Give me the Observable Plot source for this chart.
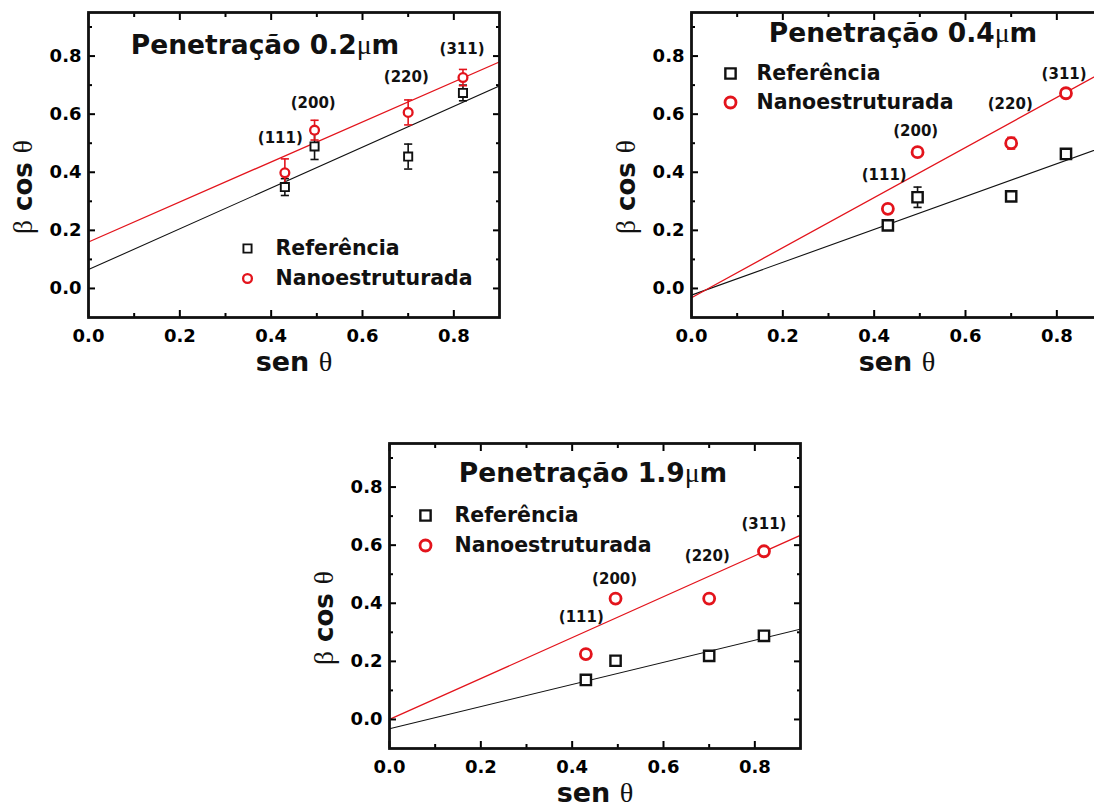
<!DOCTYPE html>
<html>
<head>
<meta charset="utf-8">
<script src="https://cdn.jsdelivr.net/npm/d3@7"></script>
<script src="https://cdn.jsdelivr.net/npm/@observablehq/plot@0.6"></script>
<style>
  html, body { margin: 0; padding: 0; background: #fff; }
  body { width: 1094px; height: 808px; overflow: hidden; position: relative; }
  .panel { position: absolute; width: 519px; height: 380px; }
  .panel svg { max-width: none !important; }
</style>
</head>
<body>
<div id="p1" class="panel" style="left:0px;top:0px"></div>
<div id="p2" class="panel" style="left:603px;top:0px"></div>
<div id="p3" class="panel" style="left:301px;top:431px"></div>
<script>
// ---------- data ----------
const sinTheta = [0.43, 0.495, 0.70, 0.82];
const planes = ["(111)", "(200)", "(220)", "(311)"];
const seriesNames = ["Referência", "Nanoestruturada"];
const titles = ["Penetração 0.2μm", "Penetração 0.4μm", "Penetração 1.9μm"];

const xTicks = [0.0, 0.2, 0.4, 0.6, 0.8];
const xMinor = [0.1, 0.3, 0.5, 0.7];
const yTicks = [0.0, 0.2, 0.4, 0.6, 0.8];
const yMinor = [0.1, 0.3, 0.5, 0.7, 0.9];
const xDomain = [0, 0.9];
const yDomain = [-0.1, 0.95];

// Penetração 0.2 µm
const ref02 = [0.349, 0.489, 0.454, 0.673];
const ref02Err = [0.029, 0.045, 0.043, 0.027];
const nano02 = [0.398, 0.545, 0.606, 0.726];
const nano02Err = [0.048, 0.034, 0.043, 0.028];
// Penetração 0.4 µm
const ref04 = [0.217, 0.314, 0.317, 0.463];
const ref04Err = [0.012, 0.035, 0.012, 0.015];
const nano04 = [0.274, 0.469, 0.500, 0.672];
const nano04Err = [0.012, 0.012, 0.020, 0.015];
// Penetração 1.9 µm
const ref19 = [0.136, 0.202, 0.219, 0.288];
const ref19Err = [0.010, 0.010, 0.010, 0.010];
const nano19 = [0.225, 0.416, 0.416, 0.579];
const nano19Err = [0.008, 0.008, 0.008, 0.008];

// linear fits (values at the ends of the x range)
const fitX = [0, 0.9];
const fitRef02 = [0.065, 0.697];
const fitNano02 = [0.160, 0.780];
const fitRef04 = [-0.023, 0.486];
const fitNano04 = [-0.032, 0.744];
const fitRef19 = [-0.032, 0.311];
const fitNano19 = [0.000, 0.634];

// plane label anchors (data units)
const planeX02 = [0.420, 0.492, 0.696, 0.818];
const planeY02 = [0.516, 0.639, 0.728, 0.824];
const planeX04 = [0.422, 0.491, 0.698, 0.816];
const planeY04 = [0.389, 0.540, 0.634, 0.737];
const planeX19 = [0.420, 0.493, 0.696, 0.820];
const planeY19 = [0.351, 0.482, 0.562, 0.671];

const RED = "#e3141c";
const FONT = "DejaVu Sans";

// ---------- helpers ----------
const capSymbol = {
  draw(context, size) {
    const w = Math.sqrt(size);
    context.moveTo(-w, 0);
    context.lineTo(w, 0);
  }
};

function rows(ys, errs) {
  return sinTheta.map((x, i) => ({x, y: ys[i], lo: ys[i] - errs[i], hi: ys[i] + errs[i]}));
}
function fitRows(ys) {
  return fitX.map((x, i) => ({x, y: ys[i]}));
}
function labelRows(xs, ys) {
  return planes.map((t, i) => ({t, x: xs[i], y: ys[i]}));
}

function greekify(svg) {
  svg.querySelectorAll("text, tspan").forEach(el => {
    for (const node of Array.from(el.childNodes)) {
      if (node.nodeType === 3 && /[βθμ]/.test(node.nodeValue)) {
        const parts = node.nodeValue.split(/([βθμ])/);
        const frag = document.createDocumentFragment();
        for (const p of parts) {
          if (!p) continue;
          if (/[βθμ]/.test(p)) {
            const t = document.createElementNS("http://www.w3.org/2000/svg", "tspan");
            t.setAttribute("font-family", "Liberation Serif, DejaVu Serif, serif");
            t.setAttribute("font-weight", "normal");
            t.setAttribute("font-size", "1.05em");
            t.textContent = p;
            frag.appendChild(t);
          } else frag.appendChild(document.createTextNode(p));
        }
        node.replaceWith(frag);
      }
    }
  });
}

function panel(cfg) {
  const ref = rows(cfg.ref, cfg.refErr);
  const nano = rows(cfg.nano, cfg.nanoErr);
  const axisCommon = {label: null, fontSize: 18, fontWeight: "bold"};
  const plot = Plot.plot({
    width: 519,
    height: 380,
    marginLeft: 88,
    marginRight: 20,
    marginTop: 12,
    marginBottom: 63,
    style: {fontFamily: FONT, background: "white", color: "black", overflow: "visible"},
    x: {domain: xDomain},
    y: {domain: yDomain},
    marks: [
      // fit lines
      Plot.line(fitRows(cfg.fitRef), {x: "x", y: "y", stroke: "#111", strokeWidth: 1.1, clip: true}),
      Plot.line(fitRows(cfg.fitNano), {x: "x", y: "y", stroke: RED, strokeWidth: 1.3, clip: true}),
      // error bars
      Plot.ruleX(ref, {x: "x", y1: "lo", y2: "hi", stroke: "#111", strokeWidth: 1.6}),
      Plot.dot(ref, {x: "x", y: "lo", symbol: capSymbol, r: 2.3, stroke: "#111", strokeWidth: 1.6}),
      Plot.dot(ref, {x: "x", y: "hi", symbol: capSymbol, r: 2.3, stroke: "#111", strokeWidth: 1.6}),
      Plot.ruleX(nano, {x: "x", y1: "lo", y2: "hi", stroke: RED, strokeWidth: 1.6}),
      Plot.dot(nano, {x: "x", y: "lo", symbol: capSymbol, r: 2.3, stroke: RED, strokeWidth: 1.6}),
      Plot.dot(nano, {x: "x", y: "hi", symbol: capSymbol, r: 2.3, stroke: RED, strokeWidth: 1.6}),
      // points
      Plot.dot(ref, {x: "x", y: "y", symbol: "square", r: cfg.sq, stroke: "#111", strokeWidth: cfg.sqw, fill: "white"}),
      Plot.dot(nano, {x: "x", y: "y", symbol: "circle", r: cfg.circ, stroke: RED, strokeWidth: cfg.circw, fill: "white"}),
      // plane labels
      Plot.text(labelRows(cfg.planeX, cfg.planeY), {x: "x", y: "y", text: "t", fontSize: 15, fontWeight: "bold", fill: "#111"}),
      // title
      Plot.text([cfg.title], {frameAnchor: "top", lineAnchor: "middle", textAnchor: "middle", dx: cfg.titleDx, dy: cfg.titleDy, fontSize: 26.5, fontWeight: "bold", fill: "#111"}),
      // legend
      Plot.dot([seriesNames[0]], {frameAnchor: "top-left", dx: cfg.legDx, dy: cfg.legDy, symbol: "square", r: cfg.sq, stroke: "#111", strokeWidth: cfg.sqw, fill: "white"}),
      Plot.dot([seriesNames[1]], {frameAnchor: "top-left", dx: cfg.legDx, dy: cfg.legDy + cfg.legGap, symbol: "circle", r: cfg.circ, stroke: RED, strokeWidth: cfg.circw, fill: "white"}),
      Plot.text([seriesNames[0]], {frameAnchor: "top-left", lineAnchor: "middle", dx: cfg.legDx + cfg.legText, dy: cfg.legDy, textAnchor: "start", fontSize: 20.5, fontWeight: "bold", fill: "#111"}),
      Plot.text([seriesNames[1]], {frameAnchor: "top-left", lineAnchor: "middle", dx: cfg.legDx + cfg.legText, dy: cfg.legDy + cfg.legGap, textAnchor: "start", fontSize: 20.5, fontWeight: "bold", fill: "#111"}),
      // axis labels
      Plot.text(["sen θ"], {frameAnchor: "bottom", lineAnchor: "middle", textAnchor: "middle", dy: 45, fontSize: 27, fontWeight: "bold", fill: "#111"}),
      Plot.text(["β cos θ"], {frameAnchor: "left", lineAnchor: "middle", textAnchor: "middle", dx: -65, dy: 22, rotate: -90, fontSize: 26, fontWeight: "bold", fill: "#111"}),
      // tick labels
      Plot.axisX({...axisCommon, anchor: "bottom", ticks: xTicks, tickSize: 0, tickPadding: 12, tickFormat: d3.format(".1f")}),
      Plot.axisY({...axisCommon, anchor: "left", ticks: yTicks, tickSize: 0, tickPadding: 7, tickFormat: d3.format(".1f")}),
      // inward tick marks on all sides
      Plot.axisX({anchor: "bottom", ticks: xTicks, tickSize: 7, dy: -7, strokeWidth: 2, tickFormat: () => "", label: null}),
      Plot.axisX({anchor: "bottom", ticks: xMinor, tickSize: 4, dy: -4, strokeWidth: 2, tickFormat: () => "", label: null}),
      Plot.axisX({anchor: "top", ticks: xTicks, tickSize: 7, dy: 7, strokeWidth: 2, tickFormat: () => "", label: null}),
      Plot.axisX({anchor: "top", ticks: xMinor, tickSize: 4, dy: 4, strokeWidth: 2, tickFormat: () => "", label: null}),
      Plot.axisY({anchor: "left", ticks: yTicks, tickSize: 7, dx: 7, strokeWidth: 2, tickFormat: () => "", label: null}),
      Plot.axisY({anchor: "left", ticks: yMinor, tickSize: 4, dx: 4, strokeWidth: 2, tickFormat: () => "", label: null}),
      Plot.axisY({anchor: "right", ticks: yTicks, tickSize: 7, dx: -7, strokeWidth: 2, tickFormat: () => "", label: null}),
      Plot.axisY({anchor: "right", ticks: yMinor, tickSize: 4, dx: -4, strokeWidth: 2, tickFormat: () => "", label: null}),
      Plot.frame({stroke: "#111", strokeWidth: 2.8})
    ]
  });
  greekify(plot);
  return plot;
}

document.getElementById("p1").appendChild(panel({
  title: titles[0], titleDx: -29, titleDy: 33,
  ref: ref02, refErr: ref02Err, nano: nano02, nanoErr: nano02Err,
  fitRef: fitRef02, fitNano: fitNano02,
  planeX: planeX02, planeY: planeY02,
  legDx: 159, legDy: 236, legGap: 30, legText: 28,
  sq: 4.6, sqw: 1.9, circ: 4.4, circw: 2.3
}));
document.getElementById("p2").appendChild(panel({
  title: titles[1], titleDx: 6, titleDy: 21,
  ref: ref04, refErr: ref04Err, nano: nano04, nanoErr: nano04Err,
  fitRef: fitRef04, fitNano: fitNano04,
  planeX: planeX04, planeY: planeY04,
  legDx: 39, legDy: 61, legGap: 29, legText: 26,
  sq: 5.8, sqw: 2.4, circ: 5.5, circw: 2.8
}));
document.getElementById("p3").appendChild(panel({
  title: titles[2], titleDx: -2, titleDy: 30,
  ref: ref19, refErr: ref19Err, nano: nano19, nanoErr: nano19Err,
  fitRef: fitRef19, fitNano: fitNano19,
  planeX: planeX19, planeY: planeY19,
  legDx: 36, legDy: 72, legGap: 30, legText: 29,
  sq: 5.8, sqw: 2.4, circ: 5.5, circw: 2.8
}));
</script>
</body>
</html>
